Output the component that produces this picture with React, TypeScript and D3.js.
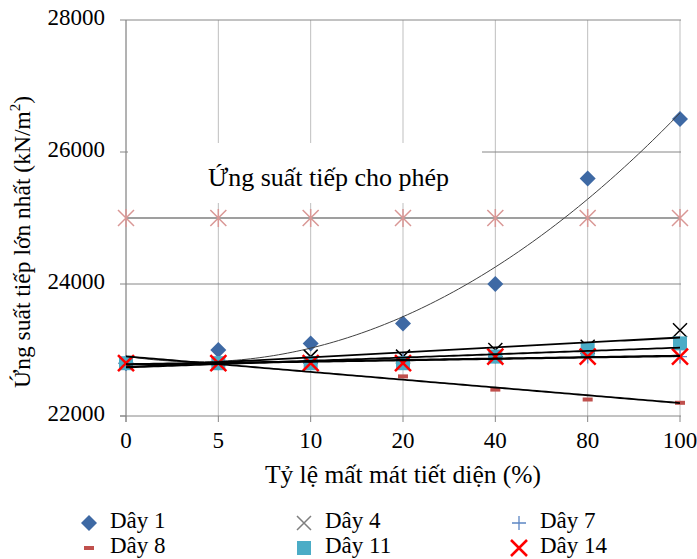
import * as d3 from 'd3';

// ── Data ──────────────────────────────────────────────
const categories = ['0', '5', '10', '20', '40', '80', '100'];
const yTicks = [22000, 24000, 26000, 28000];

const day1 = [22800, 23000, 23100, 23400, 24000, 25600, 26500];
const day4 = [22800, 22800, 22900, 22900, 23000, 23050, 23300];
const day7 = [22800, 22800, 22800, 22850, 22900, 22900, 22900];
const day8 = [22800, 22800, 22800, 22600, 22400, 22250, 22200];
const day11 = [22800, 22800, 22800, 22800, 22900, 23000, 23100];
const day14 = [22800, 22800, 22800, 22800, 22900, 22900, 22900];
const allowable = [25000, 25000, 25000, 25000, 25000, 25000, 25000];

const FONT = "'Liberation Serif', 'Times New Roman', serif";
const FS = 23;

type Marker = 'diamond' | 'x' | 'plus' | 'dash' | 'square' | 'redx' | 'star';

const seriesList: { name: string; values: number[]; marker: Marker; color: string; trend: 1 | 2 }[] = [
  { name: 'Dây 1', values: day1, marker: 'diamond', color: '#3E69A4', trend: 2 },
  { name: 'Dây 4', values: day4, marker: 'x', color: '#000000', trend: 1 },
  { name: 'Dây 7', values: day7, marker: 'plus', color: '#5C86C4', trend: 1 },
  { name: 'Dây 8', values: day8, marker: 'dash', color: '#C0504D', trend: 1 },
  { name: 'Dây 11', values: day11, marker: 'square', color: '#4BACC6', trend: 1 },
  { name: 'Dây 14', values: day14, marker: 'redx', color: '#FF0000', trend: 1 },
];

// least squares fit on x = 1..n (Excel category trendline)
function fit(values: number[], order: 1 | 2) {
  const xs = values.map((_, i) => i + 1);
  const n = xs.length;
  const m = order + 1;
  const A: number[][] = Array.from({ length: m }, () => new Array(m + 1).fill(0));
  for (let k = 0; k < n; k++) {
    for (let r = 0; r < m; r++) {
      for (let c = 0; c < m; c++) A[r][c] += Math.pow(xs[k], r + c);
      A[r][m] += values[k] * Math.pow(xs[k], r);
    }
  }
  for (let i = 0; i < m; i++) {
    for (let j = i + 1; j < m; j++) {
      const f = A[j][i] / A[i][i];
      for (let c = i; c <= m; c++) A[j][c] -= f * A[i][c];
    }
  }
  const coef = new Array(m).fill(0);
  for (let i = m - 1; i >= 0; i--) {
    let s = A[i][m];
    for (let c = i + 1; c < m; c++) s -= A[i][c] * coef[c];
    coef[i] = s / A[i][i];
  }
  return (x: number) => coef.reduce((acc, c, i) => acc + c * Math.pow(x, i), 0);
}

function MarkerShape({ type, cx, cy, color }: { type: Marker; cx: number; cy: number; color: string }) {
  switch (type) {
    case 'diamond':
      return <path d={`M${cx},${cy - 8}L${cx + 8},${cy}L${cx},${cy + 8}L${cx - 8},${cy}Z`} fill={color} />;
    case 'square':
      return <rect x={cx - 7} y={cy - 7} width={14} height={14} fill={color} />;
    case 'dash':
      return <rect x={cx - 5} y={cy - 2} width={10} height={4} fill={color} />;
    case 'plus':
      return <path d={`M${cx - 7},${cy}H${cx + 7}M${cx},${cy - 7}V${cy + 7}`} stroke={color} strokeWidth={1.3} />;
    case 'x':
      return <path d={`M${cx - 7},${cy - 7}L${cx + 7},${cy + 7}M${cx + 7},${cy - 7}L${cx - 7},${cy + 7}`} stroke={color} strokeWidth={1.5} />;
    case 'redx':
      return <path d={`M${cx - 8},${cy - 8}L${cx + 8},${cy + 8}M${cx + 8},${cy - 8}L${cx - 8},${cy + 8}`} stroke={color} strokeWidth={2.5} />;
    case 'star':
      return (
        <path
          d={`M${cx - 8},${cy - 8}L${cx + 8},${cy + 8}M${cx + 8},${cy - 8}L${cx - 8},${cy + 8}M${cx},${cy - 9}V${cy + 9}`}
          stroke={color}
          strokeWidth={1.5}
        />
      );
  }
  return null;
}

export default function App() {
  const W = 697;
  const H = 559;
  const left = 126, right = 680, top = 20, bottom = 416;

  const x = d3.scalePoint<string>().domain(categories).range([left, right]).padding(0);
  const xi = d3.scaleLinear().domain([1, categories.length]).range([left, right]);
  const y = d3.scaleLinear().domain([22000, 28000]).range([bottom, top]);

  const line = d3.line<[number, number]>().x(d => d[0]).y(d => d[1]);

  const trendPath = (values: number[], order: 1 | 2) => {
    const f = fit(values, order);
    const pts: [number, number][] = d3.range(1, categories.length + 0.001, 0.05).map(t => [xi(t), y(f(t))]);
    return line(pts) ?? '';
  };

  const legendCols = [89, 304, 519];
  const legendRows = [523, 548];

  return (
    <svg width={W} height={H} style={{ position: 'absolute', left: 0, top: 0, background: '#fff', fontFamily: FONT }}>
      {/* vertical gridlines */}
      {categories.map(c => (
        <line key={c} x1={x(c)} x2={x(c)} y1={top} y2={bottom} stroke="#BFBFBF" strokeWidth={1} />
      ))}
      {/* horizontal gridlines */}
      {yTicks.filter(t => t !== 22000).map(t => (
        <line key={t} x1={left} x2={right + 1} y1={y(t)} y2={y(t)} stroke="#868686" strokeWidth={1} />
      ))}

      {/* label box */}
      <rect x={128} y={143} width={354} height={60} fill="#fff" />
      <text x={208} y={180} fontSize={26} fill="#000" dominantBaseline="middle">Ứng suất tiếp cho phép</text>

      {/* axes */}
      <line x1={left} x2={left} y1={top} y2={bottom + 6} stroke="#868686" />
      <line x1={left - 6} x2={right + 1} y1={bottom} y2={bottom} stroke="#868686" />
      {yTicks.map(t => (
        <g key={t}>
          <line x1={left - 6} x2={left} y1={y(t)} y2={y(t)} stroke="#868686" />
          <text x={105} y={y(t)} textAnchor="end" dominantBaseline="middle" fontSize={FS}>{t}</text>
        </g>
      ))}
      {categories.map(c => (
        <g key={c}>
          <line x1={x(c)} x2={x(c)} y1={bottom} y2={bottom + 6} stroke="#868686" />
          <text x={x(c)} y={443} textAnchor="middle" dominantBaseline="middle" fontSize={FS}>{c}</text>
        </g>
      ))}

      {/* allowable line */}
      <path
        d={line(allowable.map((v, i) => [x(categories[i])!, y(v)] as [number, number])) ?? ''}
        fill="none"
        stroke="#7F7F7F"
        strokeWidth={1.5}
      />
      {allowable.map((v, i) => (
        <MarkerShape key={i} type="star" cx={x(categories[i])!} cy={y(v)} color="#D99795" />
      ))}

      {/* markers */}
      {seriesList.map(s => (
        <g key={s.name}>
          {s.values.map((v, i) => (
            <MarkerShape key={i} type={s.marker} cx={x(categories[i])!} cy={y(v)} color={s.color} />
          ))}
        </g>
      ))}

      {/* trendlines */}
      {seriesList.map(s => (
        <path
          key={s.name}
          d={trendPath(s.values, s.trend)}
          fill="none"
          stroke={s.trend === 2 ? '#404040' : '#000'}
          strokeWidth={s.trend === 2 ? 1 : 1.8}
        />
      ))}

      {/* axis titles */}
      <text x={403} y={477} textAnchor="middle" dominantBaseline="middle" fontSize={25.5}>Tỷ lệ mất mát tiết diện (%)</text>
      <text transform="translate(25,242) rotate(-90)" textAnchor="middle" dominantBaseline="middle" fontSize={23.5}>
        Ứng suất tiếp lớn nhất (kN/m<tspan dy={-8} fontSize={15}>2</tspan><tspan dy={8}>)</tspan>
      </text>

      {/* legend */}
      {seriesList.map((s, i) => {
        const cx = legendCols[i % 3];
        const cy = legendRows[Math.floor(i / 3)];
        return (
          <g key={s.name}>
            <MarkerShape type={s.marker} cx={cx} cy={cy} color={s.marker === 'x' ? '#7F7F7F' : s.color} />
            <text x={cx + 21} y={cy} dominantBaseline="middle" fontSize={FS}>{s.name}</text>
          </g>
        );
      })}
    </svg>
  );
}
